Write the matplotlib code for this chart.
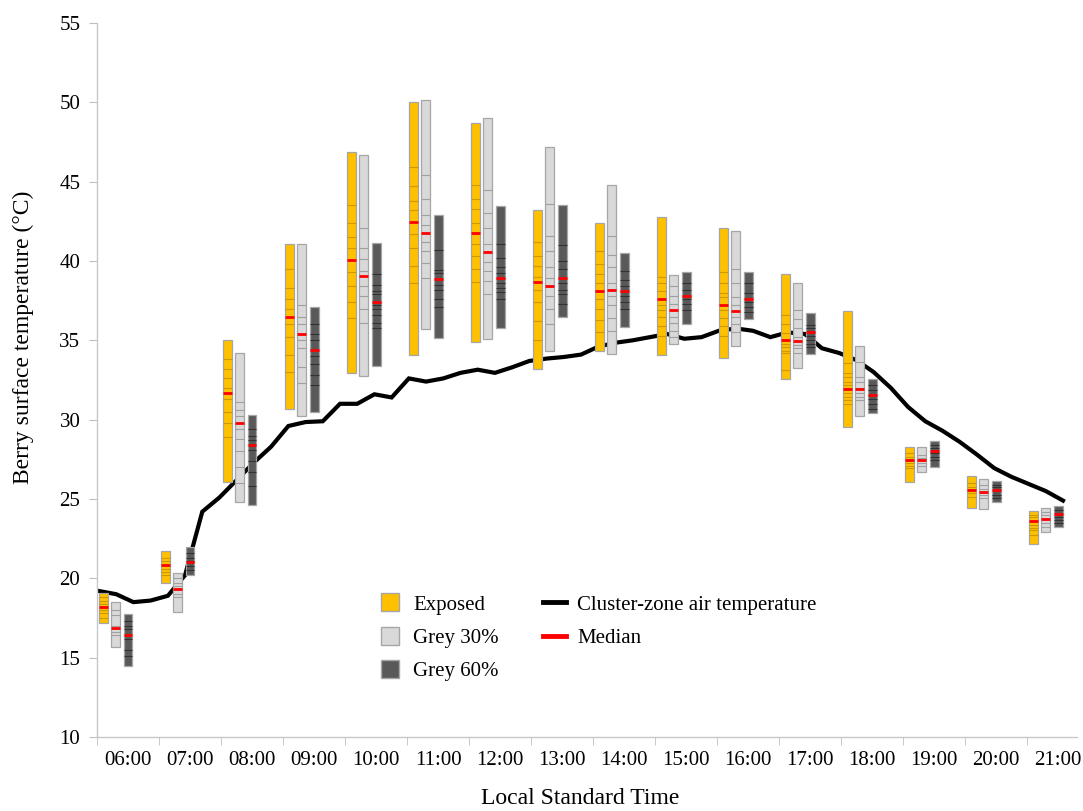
import numpy as np
import matplotlib
matplotlib.use("Agg")
import matplotlib.pyplot as plt
from matplotlib.lines import Line2D

plt.rcParams["font.family"] = ["Liberation Serif", "DejaVu Serif"]

hours = ["06:00", "07:00", "08:00", "09:00", "10:00", "11:00", "12:00", "13:00",
         "14:00", "15:00", "16:00", "17:00", "18:00", "19:00", "20:00", "21:00"]

# individual berry temperatures per hour (one list per hour)
exposed = [
    [19.1, 18.8, 18.6, 18.4, 18.0, 17.8, 17.5, 17.2],
    [21.7, 21.3, 21.1, 20.9, 20.6, 20.4, 20.2, 19.7],
    [35.0, 33.8, 33.2, 32.6, 32.0, 31.3, 30.5, 29.8, 28.9, 26.1],
    [41.1, 39.5, 38.3, 37.6, 37.0, 36.0, 35.2, 34.1, 33.0, 30.7],
    [46.84, 43.5, 42.4, 41.5, 40.8, 39.3, 38.45, 37.4, 36.4, 32.95],
    [50.03, 45.9, 44.7, 43.8, 43.2, 41.7, 40.85, 39.7, 38.6, 34.07],
    [48.67, 44.8, 43.9, 43.3, 42.4, 41.05, 40.3, 39.5, 38.65, 34.87],
    [43.2, 41.2, 40.3, 39.7, 39.0, 38.2, 37.4, 36.2, 35.0, 33.17],
    [42.4, 40.6, 39.8, 39.2, 38.6, 37.6, 37.0, 36.3, 35.5, 34.34],
    [42.8, 39.0, 38.6, 38.1, 37.2, 36.9, 36.5, 35.9, 35.3, 34.07],
    [42.1, 39.3, 38.6, 38.0, 37.7, 36.9, 36.4, 35.9, 35.3, 33.86],
    [39.2, 36.6, 36.0, 35.44, 34.8, 34.55, 34.3, 34.2, 33.1, 32.56],
    [36.84, 33.55, 32.96, 32.66, 32.39, 32.18, 31.65, 31.44, 31.23, 31.0, 29.55],
    [28.25, 27.9, 27.66, 27.25, 27.07, 26.93, 26.05],
    [26.45, 25.98, 25.77, 25.36, 25.14, 24.45],
    [24.25, 23.99, 23.84, 23.36, 23.19, 23.04, 22.73, 22.14],
]
grey30 = [
    [18.5, 18.0, 17.7, 17.0, 16.6, 16.4, 15.7],
    [20.35, 20.0, 19.7, 19.5, 19.0, 18.8, 17.9],
    [34.2, 31.1, 30.6, 30.2, 29.4, 28.8, 28.0, 27.0, 26.0, 24.8],
    [41.1, 37.2, 36.5, 36.0, 35.0, 34.5, 33.3, 32.3, 30.2],
    [46.65, 42.05, 40.85, 40.1, 39.4, 38.4, 37.8, 37.0, 36.1, 32.77],
    [50.14, 45.45, 43.9, 42.9, 42.3, 41.2, 40.6, 39.9, 38.9, 35.7],
    [49.04, 44.5, 43.05, 42.05, 41.1, 39.95, 39.4, 38.75, 37.95, 35.08],
    [47.2, 43.6, 41.6, 40.6, 39.6, 38.9, 37.8, 37.0, 36.0, 34.34],
    [44.8, 41.6, 40.4, 39.6, 38.6, 37.8, 37.2, 36.4, 35.6, 34.17],
    [39.1, 38.4, 37.8, 37.3, 36.5, 36.1, 35.6, 35.2, 34.77],
    [41.9, 39.5, 38.6, 37.7, 37.2, 36.5, 36.0, 35.5, 34.66],
    [38.6, 36.9, 36.34, 35.8, 35.2, 34.7, 34.5, 34.23, 33.23],
    [34.66, 33.65, 32.7, 32.39, 31.97, 31.65, 31.4, 31.23, 30.24],
    [28.25, 27.77, 27.6, 27.25, 27.07, 26.72],
    [26.26, 25.9, 25.6, 25.25, 25.04, 24.35],
    [24.46, 24.2, 23.99, 23.47, 23.25, 22.93],
]
grey60 = [
    [17.75, 17.3, 17.0, 16.8, 16.2, 15.5, 15.1, 14.5],
    [22.0, 21.6, 21.3, 21.1, 20.8, 20.5, 20.2],
    [30.3, 29.4, 29.0, 28.7, 28.1, 27.4, 26.7, 25.8, 24.6],
    [37.1, 36.0, 35.4, 35.0, 34.0, 33.5, 32.8, 32.2, 30.5],
    [41.13, 39.15, 38.5, 38.1, 37.9, 37.2, 36.95, 36.6, 36.1, 35.75, 33.4],
    [42.93, 40.7, 39.45, 39.25, 38.5, 38.2, 37.6, 37.1, 35.16],
    [43.46, 41.05, 40.2, 39.6, 39.25, 38.6, 38.3, 38.05, 37.6, 35.75],
    [43.5, 41.0, 40.0, 39.5, 38.6, 38.2, 37.9, 37.3, 36.5],
    [40.5, 39.4, 38.8, 38.4, 37.8, 37.4, 37.0, 35.85],
    [39.3, 38.6, 38.2, 37.6, 37.3, 36.9, 36.06],
    [39.3, 38.6, 38.0, 37.4, 37.1, 36.8, 36.34],
    [36.73, 35.96, 35.75, 35.26, 35.0, 34.8, 34.6, 34.17],
    [32.56, 32.2, 31.9, 31.3, 31.0, 30.7, 30.4],
    [28.65, 28.4, 28.2, 27.9, 27.66, 27.45, 27.03],
    [26.15, 25.88, 25.73, 25.25, 25.08, 24.83],
    [24.55, 24.3, 23.84, 23.67, 23.47, 23.25],
]

exposed_median = [18.2, 20.85, 31.7, 36.5, 40.04, 42.43, 41.74, 38.7, 38.1, 37.6, 37.24, 35.02, 31.93, 27.43, 25.55, 23.62]
grey30_median = [16.9, 19.3, 29.8, 35.4, 39.05, 41.74, 40.54, 38.4, 38.2, 36.9, 36.82, 34.93, 31.93, 27.43, 25.44, 23.73]
grey60_median = [16.4, 21.0, 28.4, 34.4, 37.4, 38.84, 38.94, 38.9, 38.1, 37.8, 37.6, 35.5, 31.55, 28.04, 25.55, 24.05]

# cluster-zone air temperature, every 15 min from 06:00 to 20:00
air_time = np.arange(6, 20.01, 0.25)
air_temp = [19.2, 19.0, 18.5, 18.6, 18.9, 20.2, 24.2, 25.1, 26.2, 27.3, 28.3, 29.6,
            29.85, 29.9, 31.0, 31.0, 31.6, 31.4, 32.6, 32.4, 32.6, 32.95, 33.15, 32.95,
            33.3, 33.7, 33.85, 33.95, 34.1, 34.6, 34.85, 35.0, 35.2, 35.4, 35.1, 35.2,
            35.6, 35.75, 35.6, 35.2, 35.5, 35.4, 34.5, 34.2, 33.75, 33.0, 32.0, 30.8,
            29.9, 29.3, 28.6, 27.8, 26.95, 26.4, 25.95, 25.5, 24.9]

series = [
    ("Exposed", exposed, exposed_median, "#FFC000", "#C99A00", 0.10),
    ("Grey 30%", grey30, grey30_median, "#D9D9D9", "#A0A0A0", 0.30),
    ("Grey 60%", grey60, grey60_median, "#595959", "#333333", 0.50),
]

fig = plt.figure(figsize=(10.83, 8.11), dpi=100)
ax = fig.add_axes([97 / 1083, 1 - 737 / 811, 980 / 1083, 714 / 811])

# air temperature on its own time axis, drawn beneath the bars
ax2 = ax.twiny()
ax2.plot(air_time, air_temp, color="black", lw=3.0, solid_joinstyle="miter")
ax2.set_xlim(6 - 2 / 68.86, 20 + 14 / 68.86)
ax2.set_ylim(10, 55)
ax2.axis("off")
ax.set_zorder(ax2.get_zorder() + 1)
ax.patch.set_visible(False)

bw = 0.145
x = np.arange(len(hours))
for name, vals, med, fc, lc, off in series:
    xs = x - 0.5 + off
    lo = np.array([min(v) for v in vals])
    hi = np.array([max(v) for v in vals])
    ax.bar(xs, hi - lo, bottom=lo, width=bw, color=fc, edgecolor="#A6A6A6", linewidth=0.9, zorder=2)
    for xi, v in zip(xs, vals):
        inner = sorted(v)[1:-1]
        ax.hlines(inner, xi - bw / 2, xi + bw / 2, colors=lc, lw=0.8, zorder=3)
    ax.hlines(med, xs - bw / 2, xs + bw / 2, colors="#FF0000", lw=2.0, zorder=4)

ax.set_xlim(-0.5, 15.306)
ax.set_ylim(10, 55)
ax.set_yticks(np.arange(10, 56, 5))
ax.set_xticks(x)
ax.set_xticklabels(hours)
ax.set_xticks(np.arange(-0.5, 15.4, 1), minor=True)
ax.tick_params(axis="x", which="major", length=0, pad=10, labelsize=15)
ax.tick_params(axis="x", which="minor", length=6, color="#BFBFBF", direction="out")
ax.tick_params(axis="y", length=6, color="#BFBFBF", pad=6, labelsize=15)
for s in ["top", "right"]:
    ax.spines[s].set_visible(False)
for s in ["left", "bottom"]:
    ax.spines[s].set_color("#C8C8C8")
    ax.spines[s].set_linewidth(1.0)

ax.set_xlabel("Local Standard Time", fontsize=17)
ax.set_ylabel("Berry surface temperature (°C)", fontsize=17)
ax.xaxis.set_label_coords(0.493, -0.0715)
ax.yaxis.set_label_coords(-0.0645, 0.56)

handles = [
    Line2D([], [], ls="none", marker="s", markersize=12.5, markerfacecolor="#FFC000", markeredgecolor="#A6A6A6"),
    Line2D([], [], ls="none", marker="s", markersize=12.5, markerfacecolor="#D9D9D9", markeredgecolor="#A6A6A6"),
    Line2D([], [], ls="none", marker="s", markersize=12.5, markerfacecolor="#595959", markeredgecolor="#A6A6A6"),
    Line2D([], [], color="black", lw=3.5),
    Line2D([], [], color="#FF0000", lw=3.5),
]
labels = ["Exposed", "Grey 30%", "Grey 60%", "Cluster-zone air temperature", "Median"]
fig.legend(handles, labels, ncol=2, loc="upper left", bbox_to_anchor=(379 / 1083, 1 - 595 / 811),
           frameon=False, fontsize=15, handlelength=1.1, handletextpad=0.55,
           labelspacing=0.66, columnspacing=2.1, borderpad=0, borderaxespad=0)

fig.savefig("out.png", dpi=100)
